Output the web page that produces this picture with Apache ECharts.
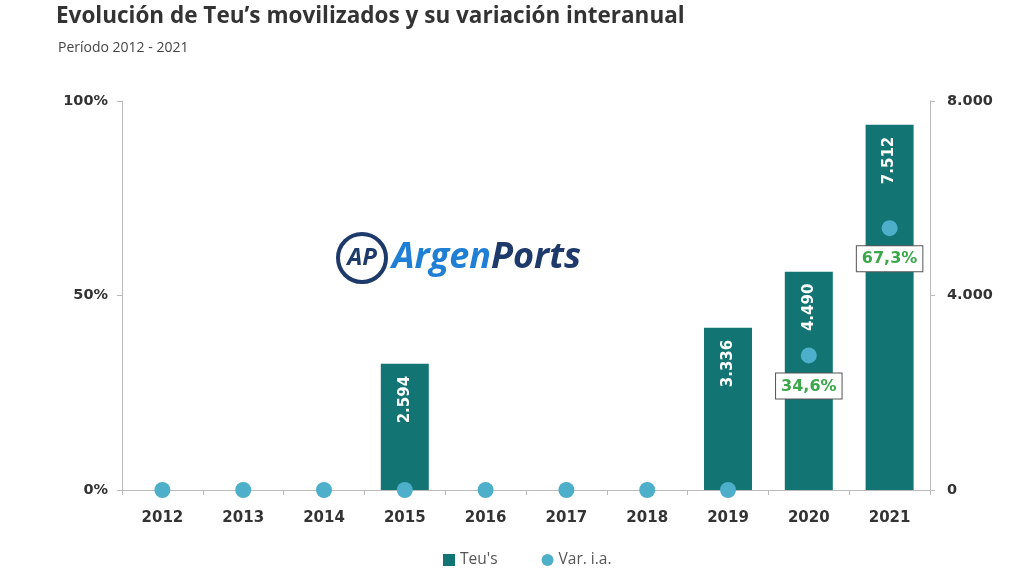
<!DOCTYPE html>
<html><head><meta charset="utf-8">
<script src="https://cdn.jsdelivr.net/npm/echarts@6/dist/echarts.min.js"></script>
<style>html,body{margin:0;padding:0;background:#fff}#c{width:1024px;height:576px}</style>
</head><body><div id="c"></div>
<script>
const years = ['2012','2013','2014','2015','2016','2017','2018','2019','2020','2021'];
const teus = [null,null,null,2594,null,null,null,3336,4490,7512];
const varIa = [0,0,0,0,0,0,0,0,34.6,67.3];
const leftTicks = [0,50,100];
const rightTicks = [0,4000,8000];

const fmtThousands = v => String(v).replace(/\B(?=(\d{3})+(?!\d))/g, '.');
const fmtPct = v => String(v).replace('.', ',') + '%';
const F = 'DejaVu Sans';

const chart = echarts.init(document.getElementById('c'));
chart.setOption({
  animation:false,
  title:[{text:'Evolución de Teu’s movilizados y su variación interanual',left:51,top:0,
    textStyle:{fontFamily:'Open Sans',fontWeight:'bold',fontSize:22.5,color:'#333'}},
    {text:'Período 2012 - 2021',left:53,top:36,textStyle:{fontFamily:'Open Sans',fontWeight:'normal',fontSize:14,color:'#444'}}],
  grid:{left:122,right:94,top:101,bottom:86},
  legend:{bottom:3,left:438,itemGap:44,itemWidth:12,itemHeight:12,
    textStyle:{fontFamily:'Open Sans',fontSize:15.5,color:'#555'},
    data:[{name:"Teu's",icon:'rect'},{name:'Var. i.a.',icon:'circle'}]},
  xAxis:{type:'category',data:years,boundaryGap:true,
    axisLine:{lineStyle:{color:'#bbb'}},axisTick:{show:true,alignWithLabel:false,lineStyle:{color:'#bbb'}},
    axisLabel:{fontFamily:F,fontWeight:'bold',fontSize:15,color:'#333',margin:21}},
  yAxis:[{type:'value',min:0,max:100,interval:50,position:'left',
      axisLine:{show:true,lineStyle:{color:'#bbb'}},axisTick:{show:true,length:5,lineStyle:{color:'#bbb'}},
      splitLine:{show:false},
      axisLabel:{formatter:v=>leftTicks.includes(v)?v+'%':'',fontFamily:F,fontWeight:'bold',fontSize:14.5,color:'#333',margin:14}},
    {type:'value',min:0,max:8000,interval:4000,position:'right',
      axisLine:{show:true,lineStyle:{color:'#bbb'}},axisTick:{show:true,length:5,lineStyle:{color:'#bbb'}},
      splitLine:{show:false},
      axisLabel:{formatter:v=>rightTicks.includes(v)?fmtThousands(v):'',fontFamily:F,fontWeight:'bold',fontSize:14.5,color:'#333',margin:17}}],
  graphic:[
    {type:'circle',shape:{cx:362,cy:258,r:24},style:{fill:'none',stroke:'#1d3a6b',lineWidth:4},z:1},
    {type:'text',x:362,y:258,style:{text:'AP',fontFamily:'Open Sans',fontWeight:'bold',fontStyle:'italic',fontSize:24,fill:'#1d3a6b',align:'center',verticalAlign:'middle'},z:1},
    {type:'text',x:392,y:258,style:{rich:{a:{fontFamily:'Open Sans',fontWeight:'bold',fontStyle:'italic',fontSize:36,fill:'#1f7fd4'},b:{fontFamily:'Open Sans',fontWeight:'bold',fontStyle:'italic',fontSize:36,fill:'#1d3a6b'}},text:'{a|Argen}{b|Ports}',verticalAlign:'middle'},z:1}
  ],
  series:[
    {name:"Teu's",type:'bar',yAxisIndex:1,data:teus,barWidth:48,itemStyle:{color:'#127473'},z:2,
      label:{show:true,position:'insideTop',rotate:90,align:'right',verticalAlign:'middle',distance:12,
        formatter:p=>fmtThousands(p.value),color:'#fff',fontFamily:F,fontWeight:'bold',fontSize:15}},
    {name:'Var. i.a.',type:'line',yAxisIndex:0,
      data:varIa.map(v=>({value:v,label:{show:v!==0}})),symbol:'circle',symbolSize:16,
      lineStyle:{width:0,opacity:0},itemStyle:{color:'#4dafca'},z:3,
      label:{show:true,position:'bottom',distance:10,formatter:p=>fmtPct(p.value),
        color:'#3aa84a',fontFamily:F,fontWeight:'bold',fontSize:16,backgroundColor:'#fff',
        borderColor:'#555',borderWidth:1,padding:[5,5,4,5]}}
  ]
});
</script></body></html>
